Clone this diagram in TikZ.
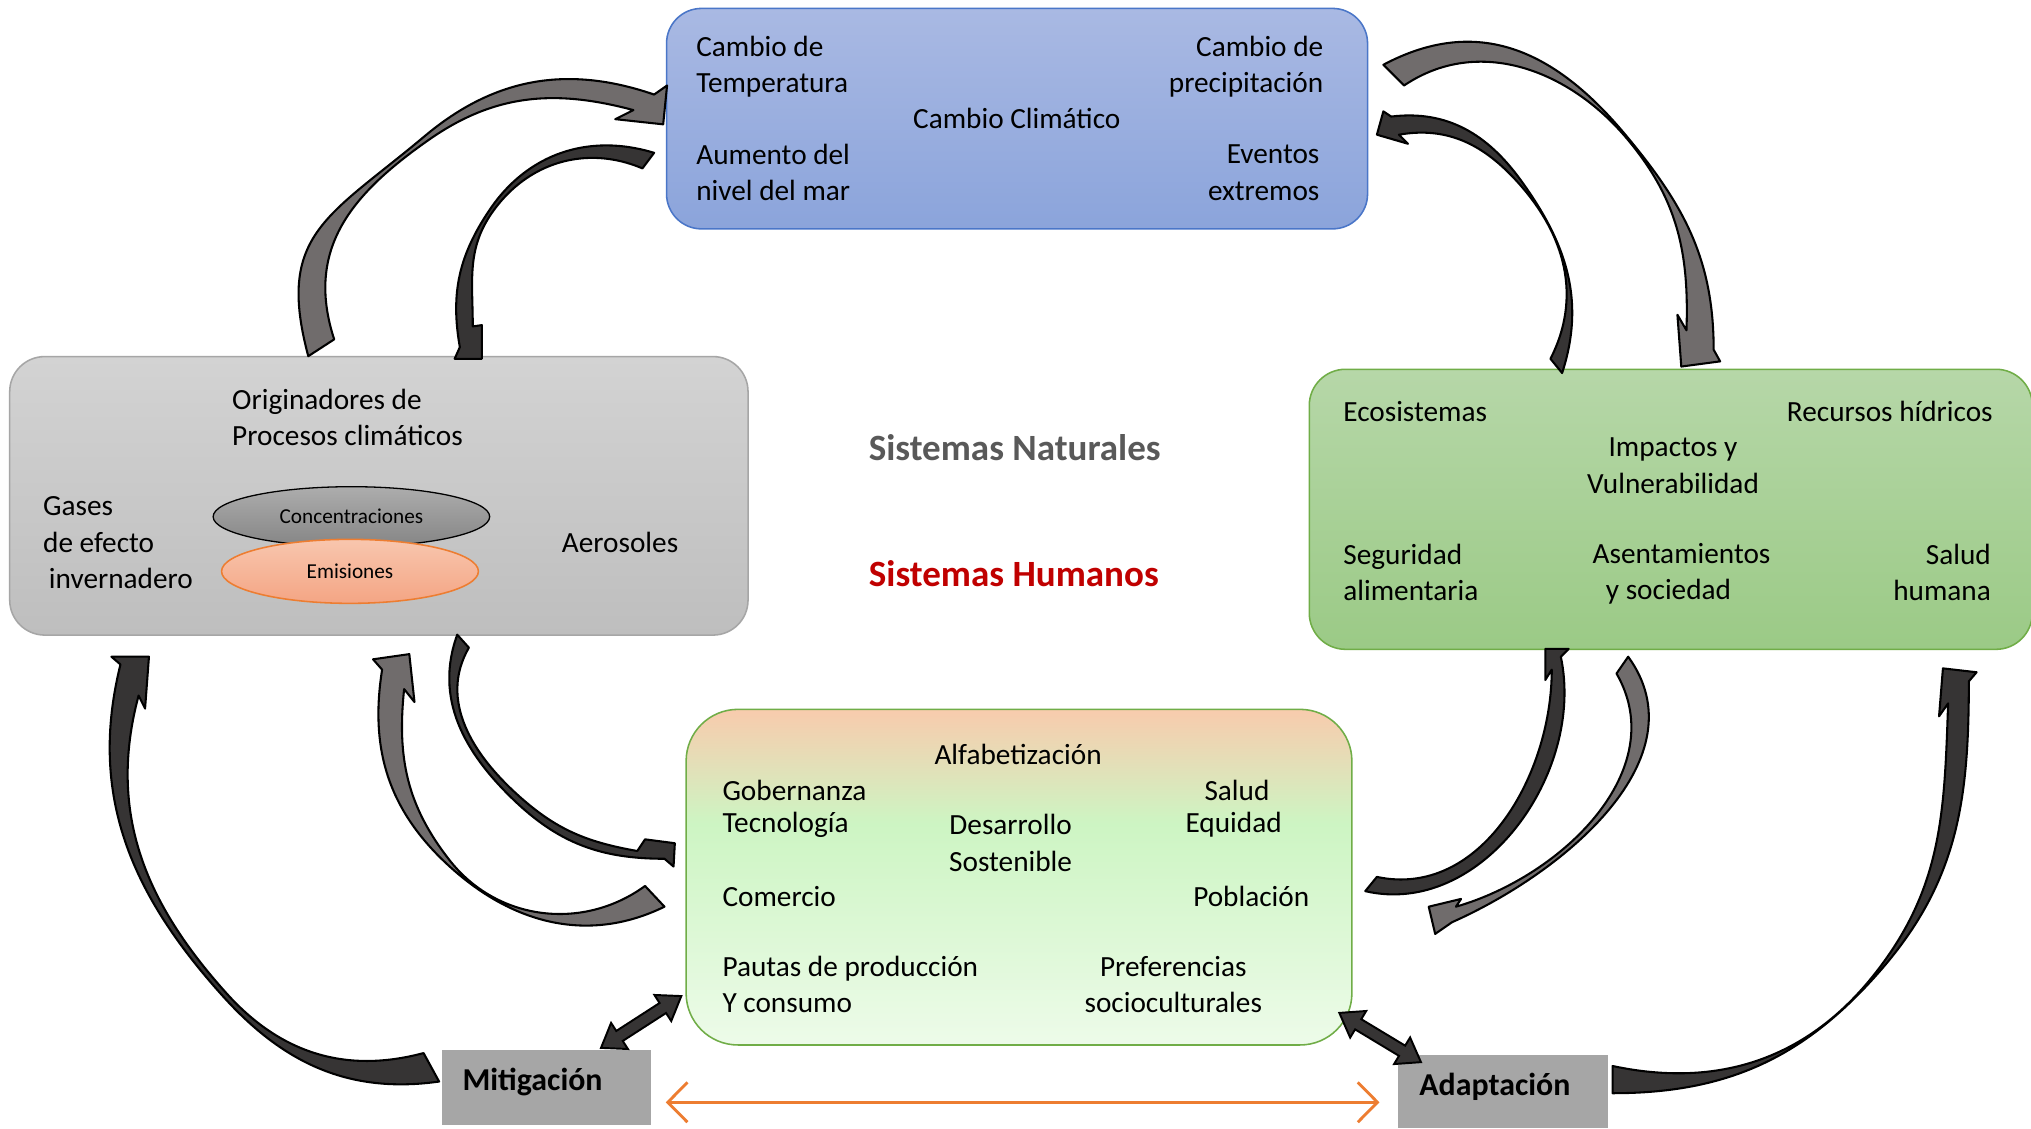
\documentclass[tikz,border=0pt]{standalone}
\usepackage{fontspec}
\setmainfont{Carlito}
\usetikzlibrary{arrows.meta,calc,shapes.geometric}

\definecolor{ccTop}{HTML}{A9B9E3}
\definecolor{ccBot}{HTML}{8BA4DB}
\definecolor{ccBorder}{HTML}{4A76C8}
\definecolor{grTop}{HTML}{D3D3D3}
\definecolor{grBot}{HTML}{BEBEBE}
\definecolor{grBorder}{HTML}{A6A6A6}
\definecolor{gnTop}{HTML}{B6D7A8}
\definecolor{gnBot}{HTML}{9BCA86}
\definecolor{gnBorder}{HTML}{70AD47}
\definecolor{desTop}{HTML}{F8CBAD}
\definecolor{desMid}{HTML}{CDF5C3}
\definecolor{desBot}{HTML}{EDFBE9}
\definecolor{concTop}{HTML}{ADADAD}
\definecolor{concBot}{HTML}{858585}
\definecolor{emTop}{HTML}{F8C6AE}
\definecolor{emBot}{HTML}{F4A584}
\definecolor{emBorder}{HTML}{ED7D31}
\definecolor{mitFill}{HTML}{A6A6A6}
\definecolor{arrMed}{HTML}{706C6C}
\definecolor{arrDark}{HTML}{363434}
\definecolor{natGray}{HTML}{595959}
\definecolor{humRed}{HTML}{C00000}
\definecolor{orangeLine}{HTML}{ED7D31}

\pgfdeclareverticalshading{desshade}{100bp}{color(0bp)=(desBot); color(25bp)=(desBot); color(58bp)=(desMid); color(75bp)=(desTop); color(100bp)=(desTop)}

\tikzset{
  txt/.style={inner sep=0pt, font=\fontsize{11.3}{14}\selectfont},
  smalltxt/.style={font=\fontsize{8.2}{10}\selectfont},
  boldtxt/.style={inner sep=0pt, font=\bfseries\fontsize{12.3}{15}\selectfont},
  sistxt/.style={inner sep=0pt, font=\bfseries\fontsize{14.3}{17}\selectfont},
  boxbase/.style={rounded corners=13.5pt, line width=0.6pt, inner sep=0pt},
  ccbox/.style={boxbase, draw=ccBorder, top color=ccTop, bottom color=ccBot},
  grbox/.style={boxbase, draw=grBorder, top color=grTop, bottom color=grBot},
  gnbox/.style={boxbase, draw=gnBorder, top color=gnTop, bottom color=gnBot},
  desbox/.style={boxbase, rounded corners=20pt, draw=gnBorder, shade, shading=desshade},
  actbox/.style={fill=mitFill, inner sep=0pt},
  concell/.style={ellipse, draw=black, line width=0.5pt, top color=concTop, bottom color=concBot, inner sep=0pt, smalltxt},
  emell/.style={ellipse, draw=emBorder, line width=0.6pt, top color=emTop, bottom color=emBot, inner sep=0pt, smalltxt},
  arrmed/.style={fill=arrMed, draw=black, line width=0.8pt, line join=round},
  arrdark/.style={fill=arrDark, draw=black, line width=0.8pt, line join=round},
  dblarrowstyle/.style={fill=arrDark, draw=black, line width=0.75pt},
  orangearrow/.style={draw=orangeLine, line width=1.1pt, {Straight Barb[length=7.6pt,width=15.4pt]}-{Straight Barb[length=7.6pt,width=15.4pt]}}
}

\newcommand{\blockdarrow}[2]{%
  \path (#1) coordinate (da-a) (#2) coordinate (da-b);
  \path ($(da-a)!8.5pt!(da-b)$) coordinate (da-ba) ($(da-b)!8.5pt!(da-a)$) coordinate (da-bb);
  \filldraw[dblarrowstyle] (da-a) -- ($(da-ba)!6pt!90:(da-b)$) -- ($(da-ba)!2.3pt!90:(da-b)$)
    -- ($(da-bb)!2.3pt!-90:(da-a)$) -- ($(da-bb)!6pt!-90:(da-a)$) -- (da-b)
    -- ($(da-bb)!6pt!90:(da-a)$) -- ($(da-bb)!2.3pt!90:(da-a)$)
    -- ($(da-ba)!2.3pt!-90:(da-b)$) -- ($(da-ba)!6pt!-90:(da-b)$) -- cycle;
}

\begin{document}
\begin{tikzpicture}[x=0.5pt,y=-0.5pt]
\useasboundingbox (0,0) rectangle (1568,871);
\fill[white] (0,0) rectangle (1568,871);

% ---------- boxes ----------
\node[ccbox, minimum width=270.6pt, minimum height=85.1pt] (cc) at (785.2,91.6) {};
\node[grbox, minimum width=285pt, minimum height=107.5pt] (orig) at (292.5,382.8) {};
\node[gnbox, rounded corners=14pt, minimum width=279.1pt, minimum height=108.1pt] (imp) at (1289.9,393.2) {};
\node[desbox, minimum width=257pt, minimum height=129.55pt] (des) at (786.7,677.2) {};
\node[actbox, minimum width=80.65pt, minimum height=28.95pt] (mit) at (421.9,839.6) {};
\node[actbox, minimum width=81pt, minimum height=28.25pt] (adp) at (1160.2,842.8) {};

% ---------- ellipses ----------
\node[concell, minimum width=106.75pt, minimum height=23.15pt] (conc) at (271.3,398.9) {Concentraciones};
\node[emell, minimum width=99.15pt, minimum height=24.7pt] (emis) at (270.2,441.1) {Emisiones};

% ---------- texts: Cambio Climatico ----------
\node[txt, anchor=west, align=left] (ccT) at (537.2,51.4) {Cambio de\\Temperatura};
\node[txt] (ccC) at (785,91.6) {Cambio Climático};
\node[txt, anchor=west, align=left] (ccM) at (537.2,133.3) {Aumento del\\nivel del mar};
\node[txt, anchor=east, align=right] (ccP) at (1022,51.4) {Cambio de\\precipitación};
\node[txt, anchor=east, align=right] (ccE) at (1019,133.3) {Eventos\\extremos};

% ---------- texts: Originadores ----------
\node[txt, anchor=west, align=left] (orT) at (178.9,322.3) {Originadores de\\Procesos climáticos};
\node[txt, anchor=west, align=left] (orG) at (32.9,419.1) {Gases\\de efecto\\\hspace*{2.25pt}invernadero};
\node[txt, anchor=west] (orA) at (433.4,419) {Aerosoles};

% ---------- texts: Impactos ----------
\node[txt, anchor=west] (imE) at (1036.7,317.8) {Ecosistemas};
\node[txt, anchor=east] (imR) at (1538.8,317.8) {Recursos hídricos};
\node[txt, align=center] (imI) at (1291.6,359.5) {Impactos y\\Vulnerabilidad};
\node[txt, anchor=west, align=left] (imS) at (1036.7,442) {Seguridad\\alimentaria};
\node[txt, anchor=west, align=left] (imA) at (1229.2,443) {Asentamientos\\\hspace*{5.1pt}y sociedad};
\node[txt, anchor=east, align=right] (imH) at (1537.4,442) {Salud\\humana};

% ---------- centre texts ----------
\node[sistxt, text=natGray] (natu) at (783.4,345.7) {Sistemas Naturales};
\node[sistxt, text=humRed] (huma) at (782.7,443.2) {Sistemas Humanos};

% ---------- texts: Desarrollo ----------
\node[txt] (dAl) at (786,582.1) {Alfabetización};
\node[txt, anchor=west] (dGo) at (557.4,609.9) {Gobernanza};
\node[txt] (dSa) at (955,609.9) {Salud};
\node[txt, anchor=west] (dTe) at (557.4,636.9) {Tecnología};
\node[txt, align=center] (dDS) at (780.2,650.8) {Desarrollo\\Sostenible};
\node[txt] (dEq) at (952.4,636.9) {Equidad};
\node[txt, anchor=west] (dCo) at (557.4,692.2) {Comercio};
\node[txt] (dPo) at (966,692.2) {Población};
\node[txt, anchor=west, align=left] (dPa) at (557.4,760.2) {Pautas de producción\\Y consumo};
\node[txt, align=center] (dPr) at (905.8,760.2) {Preferencias\\socioculturales};

% ---------- action labels ----------
\node[boldtxt, anchor=west] (mitT) at (356.7,835) {Mitigación};
\node[boldtxt, anchor=west] (adpT) at (1095.4,838.9) {Adaptación};

% ---------- curved block arrows ----------
% A: Originadores -> Cambio climatico (outer)
\filldraw[arrmed] (238,275) to[out=105,in=220,looseness=1.3] (328,105) to[out=40,in=161] (505,73)
  -- (515,66) -- (512,96) -- (475,92) -- (489,85)
  to[out=165,in=35] (331,108) to[out=215,in=108,looseness=1.1] (258,262) -- cycle;
% B: Cambio climatico -> Originadores (inner)
\filldraw[arrdark] (505,118) to[out=163,in=56] (378,162) to[out=236,in=100] (355,268)
  -- (351,277) -- (372,277) -- (372,251) -- (365,252)
  to[out=90,in=235] (380,164) to[out=55,in=157] (496,130) -- cycle;
% C: Cambio climatico -> Impactos (outer)
\filldraw[arrmed] (1068,50) to[out=28,in=130,looseness=1.1] (1254,103) to[out=-50,in=90] (1323,270)
  -- (1328,279) -- (1298,283) -- (1295,243) -- (1302,255)
  to[out=88,in=-50] (1256,107) to[out=130,in=34] (1084,66) -- cycle;
% D: Impactos -> Cambio climatico (inner)
\filldraw[arrdark] (1206,288) to[out=72,in=306] (1174,139) to[out=126,in=7] (1074,90)
  -- (1068,86) -- (1063,104) -- (1087,111) -- (1080,104)
  to[out=10,in=132] (1172,141) to[out=-48,in=63] (1197,277) -- cycle;
% E: Originadores -> Desarrollo
\filldraw[arrdark] (353,490) to[out=250,in=136] (396,617) to[out=-44,in=180] (513,663)
  -- (520,669) -- (521,651) -- (498,648) -- (492,657)
  to[out=170,in=-42] (400,614) to[out=138,in=240] (362,500) -- cycle;
% F: Desarrollo -> Originadores
\filldraw[arrmed] (513,700) to[out=206,in=-43] (345,667) to[out=137,in=261] (295,517)
  -- (288,509) -- (316,505) -- (320,542) -- (312,532)
  to[out=264,in=128] (347,664) to[out=-52,in=216] (498,684) -- cycle;
% G: Mitigacion -> Originadores
\filldraw[arrdark] (339,835) to[out=188,in=-48] (172,769) to[out=132,in=256] (93,513)
  -- (86,507) -- (115,507) -- (112,547) -- (107,537)
  to[out=255,in=132] (175,767) to[out=-48,in=195] (327,813) -- cycle;
% H: Adaptacion -> Impactos
\filldraw[arrdark] (1245,844) to[out=0,in=229] (1452,749) to[out=49,in=270] (1520,526)
  -- (1526,519) -- (1500,516) -- (1497,553) -- (1504,543)
  to[out=268,in=52] (1448,751) to[out=232,in=-12] (1245,823) -- cycle;
% I: Desarrollo -> Impactos
\filldraw[arrdark] (1054,688) to[out=-13,in=282] (1205,507)
  -- (1211,501) -- (1193,501) -- (1193,525) -- (1198,517)
  to[out=270,in=-12] (1063,677) -- cycle;
% J: Impactos -> Desarrollo
\filldraw[arrmed] (1257,507) to[out=-54,in=24] (1121,712)
  -- (1108,721) -- (1103,700) -- (1128,694) -- (1124,700)
  to[out=16,in=300] (1248,520) -- cycle;

% ---------- straight double block arrows ----------
\coordinate (m1) at (464,809);
\coordinate (m2) at (526,769);
\blockdarrow{m1}{m2}
\coordinate (a1) at (1034,782);
\coordinate (a2) at (1097,820);
\blockdarrow{a1}{a2}

% ---------- orange double arrow ----------
\coordinate (oL) at (514,851);
\coordinate (oR) at (1065,851);
\draw[orangearrow] (oL) -- (oR);
\end{tikzpicture}
\end{document}
